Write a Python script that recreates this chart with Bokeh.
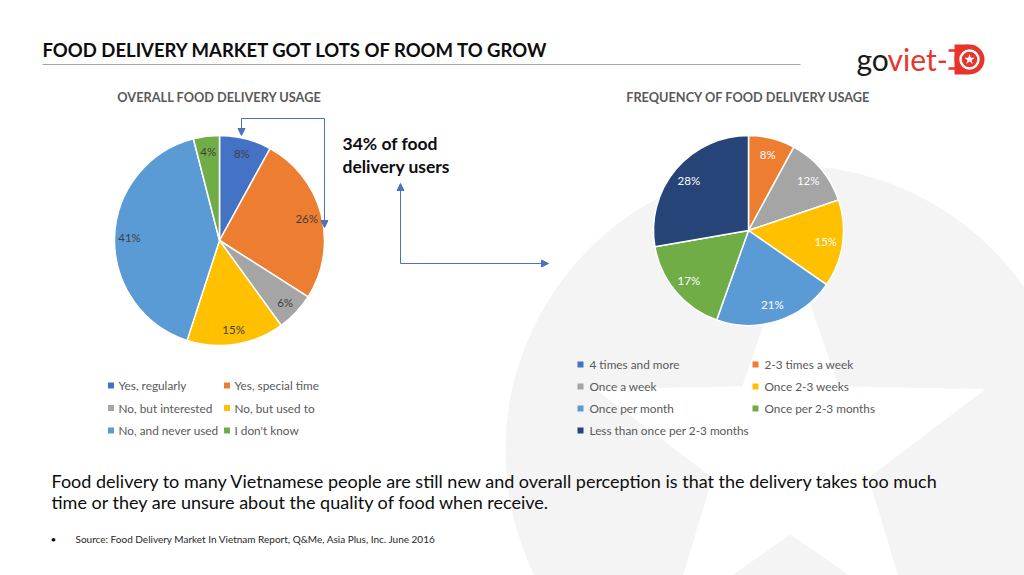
import numpy as np
from bokeh.plotting import figure
from bokeh.models import Arrow, NormalHead, ColumnDataSource
from bokeh.core.properties import value
from bokeh.embed import file_html
from bokeh.resources import INLINE

# ---------------- data ----------------
overall_labels = ["Yes, regularly", "Yes, special time", "No, but interested",
                  "No, but used to", "No, and never used", "I don't know"]
overall_values = [8, 26, 6, 15, 41, 4]

freq_labels = ["4 times and more", "2-3 times a week", "Once a week", "Once 2-3 weeks",
               "Once per month", "Once per 2-3 months", "Less than once per 2-3 months"]
freq_values = [0, 8, 12, 15, 21, 17, 28]

palette = ["#4472C4", "#ED7D31", "#A5A5A5", "#FFC000", "#5B9BD5", "#70AD47", "#264478"]

title_text = "FOOD DELIVERY MARKET GOT LOTS OF ROOM TO GROW"
chart1_title = "OVERALL FOOD DELIVERY USAGE"
chart2_title = "FREQUENCY OF FOOD DELIVERY USAGE"
callout_lines = ["34% of food", "delivery users"]
body_lines = ["Food delivery to many Vietnamese people are still new and overall perception is that the delivery takes too much",
              "time or they are unsure about the quality of food when receive."]
source_text = "Source: Food Delivery Market In Vietnam Report, Q&Me, Asia Plus, Inc. June 2016"

W, H = 1024, 575
FONT = value("Lato")


def Y(v):
    return H - v


p = figure(width=W, height=H, x_range=(0, W), y_range=(0, H),
           x_axis_type=None, y_axis_type=None, toolbar_location=None,
           output_backend="svg", min_border=0, outline_line_color=None,
           background_fill_color="white", border_fill_color="white")

# ---------------- faint background watermark ----------------
p.circle(x=[790], y=[Y(450)], radius=285, fill_color="#F4F4F4", line_color=None)
star_c = (790, Y(452))
ang = np.pi / 2 + np.arange(10) * np.pi / 5
rad = np.where(np.arange(10) % 2 == 0, 205, 82)
p.patch(star_c[0] + rad * np.cos(ang), star_c[1] + rad * np.sin(ang),
        fill_color="white", line_color=None)

# ---------------- title & rule ----------------
p.text(x=[42], y=[Y(49)], text=[title_text], text_font=FONT, text_font_style="bold",
       text_font_size="18.5px", text_color="#0D0D0D", text_baseline="middle")
p.line(x=[42, 800], y=[Y(64), Y(64)], line_color="#A6A6A6", line_width=1)

# ---------------- logo ----------------
RED = "#E8342B"
p.text(x=[856], y=[Y(58)], text=["go"], text_font=FONT, text_font_size="30px",
       text_color="#1A1A1A", text_baseline="middle")
p.text(x=[887], y=[Y(58)], text=["viet-"], text_font=FONT, text_font_size="30px",
       text_color=RED, text_baseline="middle")
p.rect(x=[961], y=[Y(59)], width=14, height=30, fill_color=RED, line_color=None)
p.circle(x=[969], y=[Y(59)], radius=15, fill_color=RED, line_color=None)
p.circle(x=[969], y=[Y(59)], radius=9, fill_color=RED, line_color="white", line_width=2.5)
p.scatter(x=[969], y=[Y(59)], size=11, marker="star", fill_color="white", line_color=None)
for dy, x0 in [(-9, 948), (9, 948)]:
    p.line(x=[x0, 956], y=[Y(59 + dy), Y(59 + dy)], line_color=RED, line_width=2.5)


# ---------------- pies ----------------
def draw_pie(vals, cx, cy, r, label_r, label_color):
    vals = np.array(vals, dtype=float)
    frac = vals / vals.sum()
    cum = np.concatenate([[0], np.cumsum(frac)])
    start = np.pi / 2 - 2 * np.pi * cum[:-1]
    end = np.pi / 2 - 2 * np.pi * cum[1:]
    keep = vals > 0
    src = ColumnDataSource(dict(s=start[keep], e=end[keep],
                                c=[palette[i] for i in range(len(vals)) if keep[i]]))
    p.wedge(x=cx, y=cy, radius=r, start_angle="s", end_angle="e", direction="clock",
            fill_color="c", line_color="white", line_width=1.5, source=src)
    mid = np.pi / 2 - 2 * np.pi * (cum[:-1] + frac / 2)
    lx = cx + label_r * np.cos(mid)
    ly = cy + label_r * np.sin(mid)
    txt = ["%d%%" % v for v in vals]
    p.text(x=lx[keep], y=ly[keep], text=[t for t, k in zip(txt, keep) if k],
           text_font=FONT, text_font_size="11.5px", text_color=label_color,
           text_align="center", text_baseline="middle")


draw_pie(overall_values, 219, Y(240), 105, 90, "#404040")
draw_pie(freq_values, 748, Y(230), 95, 78, "white")

# chart titles
p.text(x=[219, 748], y=[Y(96), Y(96)], text=[chart1_title, chart2_title], text_font=FONT,
       text_font_style="bold", text_font_size="12.75px", text_color="#595959",
       text_align="center", text_baseline="middle")


# ---------------- legends ----------------
def draw_legend(labels, x_cols, y_rows, sq_off, ncol):
    xs, ys, cols = [], [], []
    for i, lab in enumerate(labels):
        xs.append(x_cols[i % ncol])
        ys.append(Y(y_rows[i // ncol]))
        cols.append(palette[i])
    xs = np.array(xs)
    p.rect(x=xs - sq_off, y=ys, width=6, height=6, fill_color=cols, line_color=None)
    p.text(x=xs, y=ys, text=labels, text_font=FONT, text_font_size="11.8px",
           text_color="#595959", text_baseline="middle")


draw_legend(overall_labels, [118, 234], [385, 407.5, 430], 7.5, 2)
draw_legend(freq_labels, [589, 764], [364, 386, 408, 430], 9, 2)

# ---------------- callout ----------------
p.text(x=[342, 342], y=[Y(142.5), Y(165.5)], text=callout_lines, text_font=FONT,
       text_font_style="bold", text_font_size="17.5px", text_color="#0D0D0D",
       text_baseline="middle")

arrow_col = "#4A72BE"
head = dict(size=7, fill_color=arrow_col, line_color=arrow_col)
p.line(x=[241, 324], y=[Y(118), Y(118)], line_color=arrow_col, line_width=1)
p.add_layout(Arrow(x_start=241, y_start=Y(118), x_end=241, y_end=Y(135),
                   line_color=arrow_col, line_width=1, end=NormalHead(**head)))
p.add_layout(Arrow(x_start=324, y_start=Y(118), x_end=324, y_end=Y(227),
                   line_color=arrow_col, line_width=1, end=NormalHead(**head)))
p.add_layout(Arrow(x_start=400, y_start=Y(263), x_end=400, y_end=Y(183),
                   line_color=arrow_col, line_width=1, end=NormalHead(**head)))
p.add_layout(Arrow(x_start=400, y_start=Y(263), x_end=548, y_end=Y(263),
                   line_color=arrow_col, line_width=1, end=NormalHead(**head)))

# ---------------- body text ----------------
p.text(x=[51, 51], y=[Y(480), Y(501)], text=body_lines, text_font=FONT,
       text_font_size="18px", text_color="#0D0D0D", text_baseline="middle")
p.text(x=[50], y=[Y(538)], text=["\u2022"], text_font=FONT, text_font_size="10px",
       text_color="#0D0D0D", text_baseline="middle")
p.text(x=[75], y=[Y(538)], text=[source_text], text_font=FONT, text_font_size="10px",
       text_color="#262626", text_baseline="middle")

open("out.html", "w").write(file_html(p, INLINE))
